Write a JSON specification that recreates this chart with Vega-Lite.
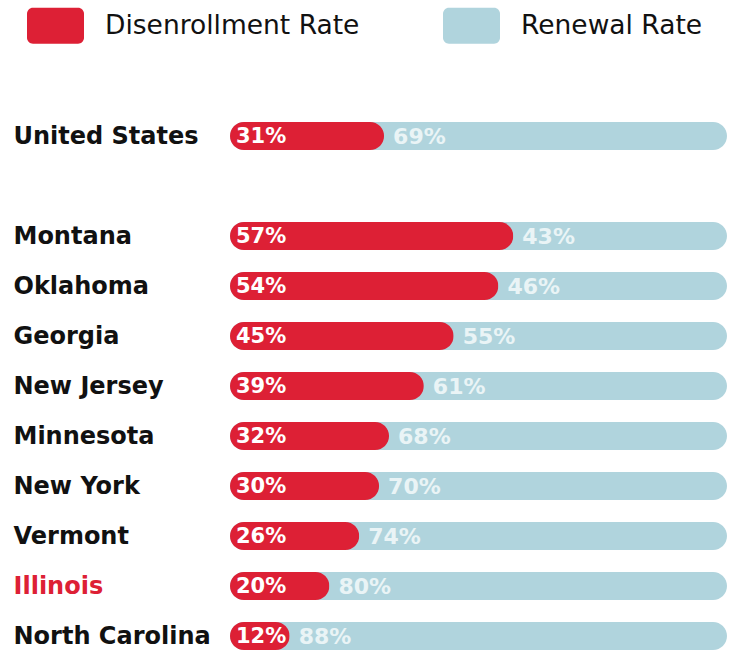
{
  "$schema": "https://vega.github.io/schema/vega-lite/v6.json",
  "autosize": {"type": "none"},
  "width": 497,
  "height": 528,
  "padding": {"left": 230, "top": 122, "right": 4, "bottom": 0},
  "background": "white",
  "config": {"view": {"stroke": null}, "font": "DejaVu Sans"},
  "data": {
    "values": [
      {"state": "United States", "d": 0.31, "r": 0.69},
      {"state": "Montana", "d": 0.57, "r": 0.43},
      {"state": "Oklahoma", "d": 0.54, "r": 0.46},
      {"state": "Georgia", "d": 0.45, "r": 0.55},
      {"state": "New Jersey", "d": 0.39, "r": 0.61},
      {"state": "Minnesota", "d": 0.32, "r": 0.68},
      {"state": "New York", "d": 0.30, "r": 0.70},
      {"state": "Vermont", "d": 0.26, "r": 0.74},
      {"state": "Illinois", "d": 0.20, "r": 0.80},
      {"state": "North Carolina", "d": 0.12, "r": 0.88}
    ]
  },
  "encoding": {
    "y": {
      "field": "state",
      "type": "nominal",
      "sort": null,
      "scale": {
        "domain": ["United States", " ", "Montana", "Oklahoma", "Georgia", "New Jersey", "Minnesota", "New York", "Vermont", "Illinois", "North Carolina"],
        "paddingInner": 0.44,
        "paddingOuter": 0
      },
      "axis": {
        "title": null,
        "domain": false,
        "ticks": false,
        "labelAlign": "left",
        "labelBaseline": "middle",
        "labelOffset": 1,
        "labelPadding": 217,
        "labelFontSize": 24,
        "labelFontWeight": "bold",
        "labelFont": "DejaVu Sans",
        "labelLimit": 300,
        "labelColor": {"condition": {"test": "datum.value === 'Illinois'", "value": "#dd2035"}, "value": "#111111"}
      }
    }
  },
  "layer": [
    {
      "mark": {"type": "bar", "cornerRadius": 14},
      "encoding": {
        "x": {"datum": 1, "type": "quantitative", "scale": {"domain": [0, 1]}, "axis": null},
        "color": {
          "datum": "Renewal Rate",
          "type": "nominal",
          "scale": {"domain": ["Disenrollment Rate", "Renewal Rate"], "range": ["#dd2035", "#b0d4dd"]},
          "legend": {
            "orient": "none",
            "legendX": -203,
            "legendY": -125,
            "direction": "horizontal",
            "title": null,
            "symbolType": "M-0.79,-0.632H0.79A0.21,0.21 0 0 1 1,-0.422V0.422A0.21,0.21 0 0 1 0.79,0.632H-0.79A0.21,0.21 0 0 1 -1,0.422V-0.422A0.21,0.21 0 0 1 -0.79,-0.632Z",
            "symbolSize": 3249,
            "symbolStrokeWidth": 0,
            "symbolOpacity": 1,
            "labelFontSize": 26.5,
            "labelFont": "DejaVu Sans",
            "labelFontWeight": "normal",
            "labelColor": "#111111",
            "labelLimit": 500,
            "labelOffset": 21,
            "columnPadding": 82,
            "padding": 0
          }
        }
      }
    },
    {
      "mark": {"type": "bar", "cornerRadius": 14},
      "encoding": {
        "x": {"field": "d", "type": "quantitative"},
        "color": {"datum": "Disenrollment Rate", "type": "nominal"}
      }
    },
    {
      "mark": {"type": "text", "align": "left", "baseline": "middle", "dx": 6, "dy": 1, "color": "white", "fontSize": 21, "fontWeight": "bold", "font": "DejaVu Sans"},
      "encoding": {
        "x": {"datum": 0, "type": "quantitative"},
        "text": {"field": "d", "format": ".0%"}
      }
    },
    {
      "mark": {"type": "text", "align": "left", "baseline": "middle", "dx": 9, "dy": 1, "color": "#eaf4f6", "fontSize": 22, "fontWeight": "bold", "font": "DejaVu Sans"},
      "encoding": {
        "x": {"field": "d", "type": "quantitative"},
        "text": {"field": "r", "format": ".0%"}
      }
    }
  ]
}
